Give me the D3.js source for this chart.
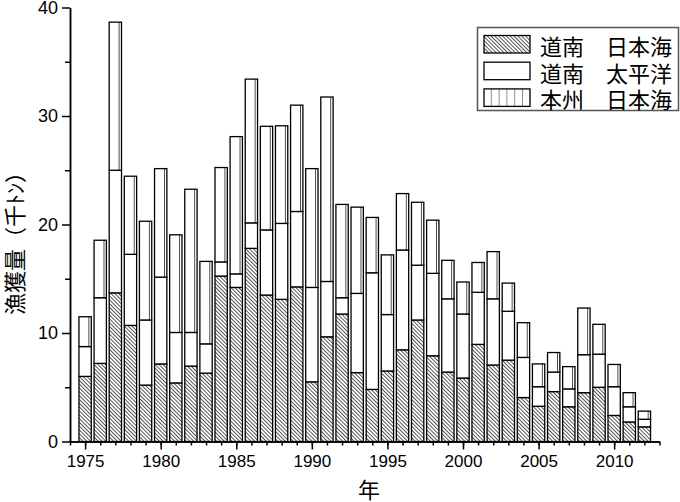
<!DOCTYPE html>
<html><head><meta charset="utf-8">
<script src="https://cdn.jsdelivr.net/npm/d3@7"></script>
<style>body{margin:0;background:#fff} svg{display:block;background:#fff}</style>
</head><body>
<svg id="chart" width="680" height="502"></svg>
<script>
const years = [1975,1976,1977,1978,1979,1980,1981,1982,1983,1984,1985,1986,1987,1988,1989,1990,1991,1992,1993,1994,1995,1996,1997,1998,1999,2000,2001,2002,2003,2004,2005,2006,2007,2008,2009,2010,2011,2012];
const seriesNames = ["道南　日本海", "道南　太平洋", "本州　日本海"];
const donanJapanSea = [6.0,7.2,13.7,10.7,5.2,7.15,5.4,6.95,6.3,15.25,14.2,17.8,13.5,13.1,14.25,5.5,9.65,11.75,6.35,4.8,6.5,8.45,11.2,7.9,6.4,5.85,8.95,7.05,7.5,4.05,3.25,4.6,3.2,4.5,5.0,2.4,1.8,1.35];
const donanPacific = [2.75,6.05,11.3,6.55,6.0,8.0,4.65,3.1,2.7,1.3,1.25,2.35,6.0,7.0,6.95,8.7,5.1,1.5,7.3,10.75,5.2,9.2,5.05,7.6,6.75,5.9,4.8,6.1,4.5,3.7,1.8,1.8,1.65,3.5,3.05,2.65,1.4,0.7];
const honshuJapanSea = [2.75,5.3,13.65,7.2,9.1,10.0,9.0,13.2,7.6,8.7,12.65,13.25,9.55,9.0,9.8,10.95,17.0,8.6,7.95,5.1,5.5,5.2,5.8,4.9,3.55,2.95,2.75,4.35,2.6,3.2,2.1,1.8,2.05,4.3,2.75,2.05,1.3,0.75];
const yTicks = [0,10,20,30,40];
const yMinorTicks = [5,15,25,35];
const xTicks = [1975,1980,1985,1990,1995,2000,2005,2010];
const xDomain = [1974, 2013];
const yLabel = "漁獲量（千ﾄﾝ）";
const xLabel = "年";

const svg = d3.select("#chart");
const x = d3.scaleLinear().domain(xDomain).range([70, 659.5]);
const y = d3.scaleLinear().domain([0, 40]).range([441.5, 7.5]);
const step = x(1) - x(0);
const bw = step * 0.815;

const keys = ["a","b","c"];
const table = years.map((yr, i) => ({year: yr, a: donanJapanSea[i], b: donanPacific[i], c: honshuJapanSea[i]}));
const stacked = d3.stack().keys(keys)(table);

const defs = svg.append("defs");
const hatch = defs.append("pattern").attr("id","hatch").attr("patternUnits","userSpaceOnUse")
  .attr("width", 2.7).attr("height", 10).attr("patternTransform","rotate(-45)");
hatch.append("rect").attr("width",2.7).attr("height",10).attr("fill","#fff");
hatch.append("line").attr("x1",0.5).attr("x2",0.5).attr("y1",0).attr("y2",10)
  .attr("stroke","#111").attr("stroke-width",0.75);
const vb = defs.append("pattern").attr("id","vbar").attr("patternUnits","userSpaceOnUse")
  .attr("x", x(years[0]) - bw/2).attr("y", 0).attr("width", step).attr("height", 20);
vb.append("rect").attr("width", step).attr("height", 20).attr("fill","#fff");
vb.append("line").attr("x1", bw - 2.4).attr("x2", bw - 2.4).attr("y1",0).attr("y2",20)
  .attr("stroke","#444").attr("stroke-width",1);

const fills = {a: "url(#hatch)", b: "#fff", c: "url(#vbar)"};

const gBars = svg.append("g");
stacked.forEach(s => {
  gBars.selectAll(null).data(s).join("rect")
    .attr("x", d => x(d.data.year) - bw/2)
    .attr("width", bw)
    .attr("y", d => y(d[1]))
    .attr("height", d => y(d[0]) - y(d[1]))
    .attr("fill", fills[s.key])
    .attr("stroke", "#000").attr("stroke-width", 1.3);
});

const axisStyle = g => {
  g.select(".domain").attr("stroke","#000").attr("stroke-width",1.5);
  g.selectAll(".tick line").attr("stroke","#000").attr("stroke-width",1.5);
  g.selectAll("text").attr("fill","#000").attr("font-family","'Liberation Sans', Arial, sans-serif");
};
svg.append("g").attr("transform",`translate(0,${y(0)})`)
  .call(d3.axisBottom(x).tickValues(d3.range(xDomain[0], xDomain[1]+1)).tickFormat("").tickSize(4).tickSizeOuter(0))
  .call(axisStyle);
svg.append("g").attr("transform",`translate(0,${y(0)})`)
  .call(d3.axisBottom(x).tickValues(xTicks).tickFormat(d3.format("d")).tickSize(8).tickSizeOuter(0).tickPadding(5))
  .call(axisStyle)
  .call(g => g.selectAll("text").attr("font-size", 17));
svg.append("g").attr("transform",`translate(${x(xDomain[0])},0)`)
  .call(d3.axisLeft(y).tickValues(yMinorTicks).tickFormat("").tickSize(5).tickSizeOuter(0))
  .call(axisStyle);
svg.append("g").attr("transform",`translate(${x(xDomain[0])},0)`)
  .call(d3.axisLeft(y).tickValues(yTicks).tickFormat(d3.format("d")).tickSize(8).tickSizeOuter(0).tickPadding(4))
  .call(axisStyle)
  .call(g => g.selectAll("text").attr("font-size", 18));

svg.append("text").attr("transform","translate(13,238) rotate(-90)")
  .attr("text-anchor","middle").attr("dominant-baseline","central")
  .attr("font-family","'Noto Sans CJK JP', sans-serif").attr("font-size",22).attr("fill","#000")
  .text(yLabel);
svg.append("text").attr("x", 369).attr("y", 488)
  .attr("text-anchor","middle").attr("dominant-baseline","central")
  .attr("font-family","'Noto Sans CJK JP', sans-serif").attr("font-size",22).attr("fill","#000")
  .text(xLabel);

const lg = svg.append("g");
lg.append("rect").attr("x",477.5).attr("y",27.5).attr("width",201).attr("height",83)
  .attr("fill","#fff").attr("stroke","#555").attr("stroke-width",1.5);
const vl = defs.append("pattern").attr("id","vleg").attr("patternUnits","userSpaceOnUse")
  .attr("x", 484).attr("y",0).attr("width",7.8).attr("height",20);
vl.append("rect").attr("width",7.8).attr("height",20).attr("fill","#fff");
vl.append("line").attr("x1",7.7).attr("x2",7.7).attr("y1",0).attr("y2",20).attr("stroke","#444").attr("stroke-width",1);
const legFills = ["url(#hatch)", "#fff", "url(#vleg)"];
seriesNames.forEach((name, i) => {
  const cy = 44 + i * 26.7;
  lg.append("rect").attr("x",484).attr("y",cy-8.5).attr("width",46).attr("height",17.5)
    .attr("fill",legFills[i]).attr("stroke","#000").attr("stroke-width",1.3);
  lg.append("text").attr("x",540).attr("y",cy+1).attr("dominant-baseline","central")
    .attr("font-family","'Noto Sans CJK JP', sans-serif").attr("font-size",22).attr("fill","#000")
    .text(name);
});
</script>
</body></html>
